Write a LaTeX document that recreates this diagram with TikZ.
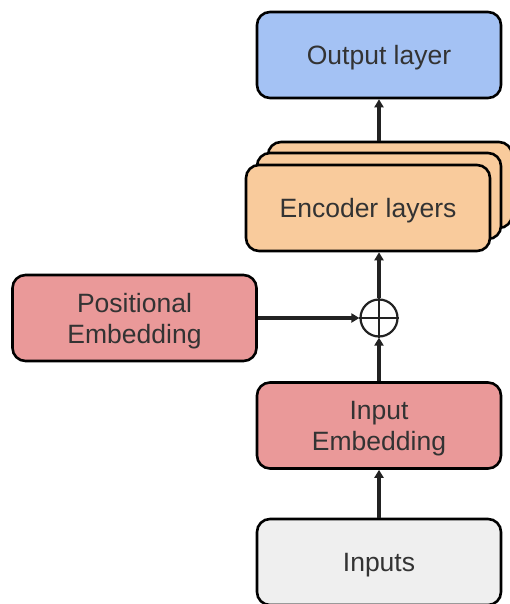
\documentclass[tikz,border=0pt]{standalone}
\usepackage{fontspec}
\setmainfont{Liberation Sans}
\usetikzlibrary{arrows.meta}
\definecolor{outblue}{HTML}{A4C2F4}
\definecolor{encorange}{HTML}{F9CB9C}
\definecolor{embpink}{HTML}{EA9999}
\definecolor{inpgray}{HTML}{EFEFEF}
\definecolor{txtgray}{HTML}{333333}
\definecolor{linegray}{HTML}{222222}
\tikzset{
  block/.style={draw=black, line width=2.6pt, rounded corners=13pt,
    minimum width=244pt, minimum height=86pt, inner sep=0pt},
  lbl/.style={align=center, text=txtgray, inner sep=0pt, yshift=-3pt,
    font=\fontsize{26.5}{31}\selectfont},
  link/.style={draw=linegray, line width=3.4pt,
    -{Triangle[length=8pt,width=9pt]}},
}
\begin{document}
\begin{tikzpicture}[x=1pt,y=-1pt]
\useasboundingbox (0,0) rectangle (510,604);
\clip (0,0) rectangle (510,604);

% output head
\node[block, fill=outblue] (out) at (379,55) {};
\node[lbl] (outtxt) at (out) {Output layer};

% stacked encoder layers (back to front)
\node[block, fill=encorange] (enc3) at (390,185) {};
\node[block, fill=encorange] (enc2) at (379,196) {};
\node[block, fill=encorange] (enc) at (368,208) {};
\node[lbl] (enctxt) at (enc) {Encoder layers};

% positional sum
\node[circle, draw=linegray, line width=2.2pt, minimum size=37pt, inner sep=0pt] (sum) at (379,318) {};
\draw[linegray, line width=2.2pt] (sum.north) -- (sum.south) (sum.west) -- (sum.east);

\node[block, fill=embpink] (pos) at (134.5,318) {};
\node[lbl] (postxt) at (pos) {Positional\\Embedding};
\node[block, fill=embpink] (emb) at (379,425.5) {};
\node[lbl] (embtxt) at (emb) {Input\\Embedding};
\node[block, fill=inpgray] (inp) at (379,562) {};
\node[lbl] (inptxt) at (inp) {Inputs};

% connectors
\draw[link] (inp.north) -- (emb.south);
\draw[link] (emb.north) -- (sum.south);
\draw[link] (pos.east) -- (sum.west);
\draw[link] (sum.north) -- (sum.north |- enc.south);
\draw[link] (enc3.north -| out.south) -- (out.south);
\end{tikzpicture}
\end{document}
